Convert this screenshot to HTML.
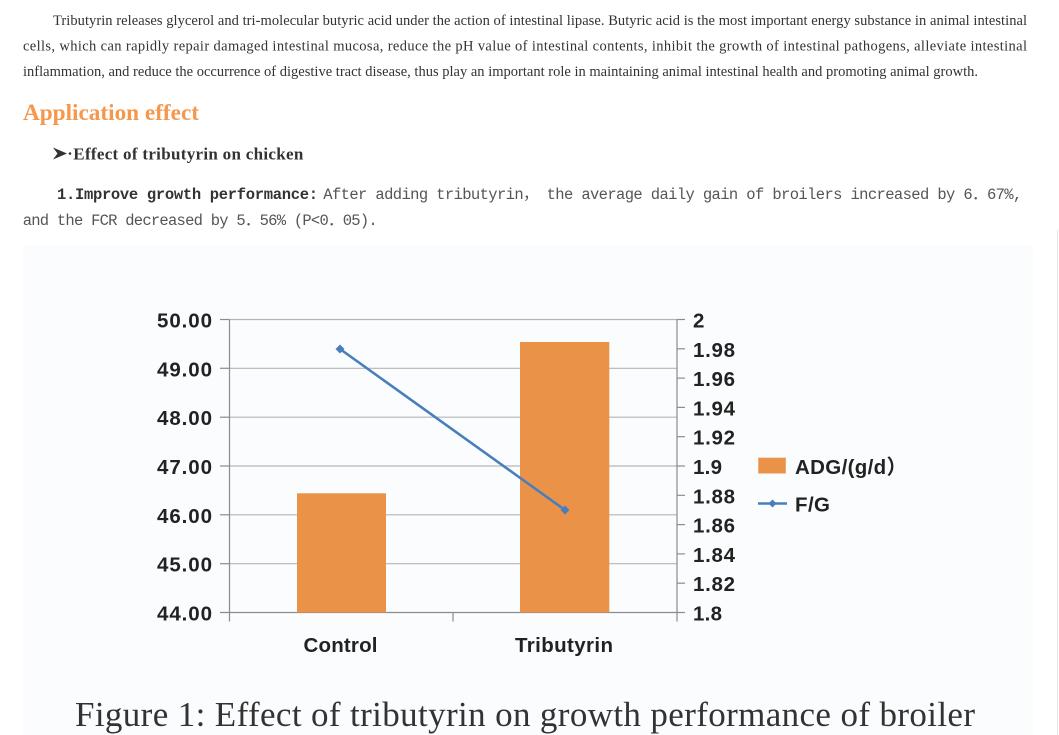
<!DOCTYPE html>
<html>
<head>
<meta charset="utf-8">
<style>
html,body{margin:0;padding:0;background:#fff;}
body{width:1059px;height:735px;overflow:hidden;position:relative;}
svg{position:absolute;left:0;top:0;}
</style>
</head>
<body>
<svg width="1059" height="735" viewBox="0 0 1059 735" xmlns="http://www.w3.org/2000/svg">
  <!-- image background -->
  <rect x="22.7" y="245" width="1010.3" height="490" fill="#fbfcfd"/>
  <line x1="1057.5" y1="230" x2="1057.5" y2="735" stroke="#e6e6e6" stroke-width="1"/>

  <!-- paragraph -->
  <g font-family="'Liberation Serif', serif" font-size="14.5" fill="#333">
    <text x="53" y="25" textLength="974" lengthAdjust="spacing">Tributyrin releases glycerol and tri-molecular butyric acid under the action of intestinal lipase. Butyric acid is the most important energy substance in animal intestinal</text>
    <text x="23" y="50.5" textLength="1004" lengthAdjust="spacing">cells, which can rapidly repair damaged intestinal mucosa, reduce the pH value of intestinal contents, inhibit the growth of intestinal pathogens, alleviate intestinal</text>
    <text x="23" y="76" textLength="955" lengthAdjust="spacing">inflammation, and reduce the occurrence of digestive tract disease, thus play an important role in maintaining animal intestinal health and promoting animal growth.</text>
  </g>

  <!-- heading -->
  <text x="23" y="120" font-family="'Liberation Serif', serif" font-weight="bold" font-size="23" fill="#f5974c" textLength="176" lengthAdjust="spacingAndGlyphs">Application effect</text>

  <!-- sub heading -->
  <polygon points="53,147.5 67,153.5 53,159.5 57.5,153.5" fill="#333"/>
  <circle cx="70" cy="153.5" r="1.3" fill="#333"/>
  <text x="73.3" y="159.5" font-family="'Liberation Serif', serif" font-weight="bold" font-size="17" fill="#333" textLength="230" lengthAdjust="spacing">Effect of tributyrin on chicken</text>

  <!-- monospace lines -->
  <text x="57" y="199" font-family="'Liberation Mono', 'Noto Sans CJK SC', monospace" font-weight="bold" font-size="15.5" fill="#333" textLength="261" lengthAdjust="spacing">1.Improve growth performance:</text>
  <text x="323.3" y="199" font-family="'Liberation Mono', 'Noto Sans CJK SC', monospace" font-size="15.5" fill="#555" textLength="699" lengthAdjust="spacing">After adding tributyrin， the average daily gain of broilers increased by 6．67%,</text>
  <text x="22.7" y="225" font-family="'Liberation Mono', 'Noto Sans CJK SC', monospace" font-size="15.5" fill="#555" textLength="355" lengthAdjust="spacing">and the FCR decreased by 5．56% (P&lt;0．05).</text>

  <!-- chart gridlines -->
  <g stroke="#b5b5b5" stroke-width="1.2">
    <line x1="229.5" y1="319.5" x2="677" y2="319.5"/>
    <line x1="229.5" y1="368.3" x2="677" y2="368.3"/>
    <line x1="229.5" y1="417.2" x2="677" y2="417.2"/>
    <line x1="229.5" y1="466" x2="677" y2="466"/>
    <line x1="229.5" y1="514.8" x2="677" y2="514.8"/>
    <line x1="229.5" y1="563.7" x2="677" y2="563.7"/>
  </g>
  <!-- axes -->
  <g stroke="#8c8c8c" stroke-width="1.2">
    <line x1="229.5" y1="319.5" x2="229.5" y2="621.5"/>
    <line x1="677" y1="319.5" x2="677" y2="621.5"/>
    <line x1="220" y1="612.5" x2="677" y2="612.5"/>
    <line x1="453" y1="612.5" x2="453" y2="621.5"/>
    <line x1="220" y1="319.5" x2="229.5" y2="319.5"/>
    <line x1="220" y1="368.3" x2="229.5" y2="368.3"/>
    <line x1="220" y1="417.2" x2="229.5" y2="417.2"/>
    <line x1="220" y1="466" x2="229.5" y2="466"/>
    <line x1="220" y1="514.8" x2="229.5" y2="514.8"/>
    <line x1="220" y1="563.7" x2="229.5" y2="563.7"/>
    <line x1="677" y1="319.5" x2="685" y2="319.5"/>
    <line x1="677" y1="348.8" x2="685" y2="348.8"/>
    <line x1="677" y1="378.1" x2="685" y2="378.1"/>
    <line x1="677" y1="407.4" x2="685" y2="407.4"/>
    <line x1="677" y1="436.7" x2="685" y2="436.7"/>
    <line x1="677" y1="466" x2="685" y2="466"/>
    <line x1="677" y1="495.3" x2="685" y2="495.3"/>
    <line x1="677" y1="524.6" x2="685" y2="524.6"/>
    <line x1="677" y1="553.9" x2="685" y2="553.9"/>
    <line x1="677" y1="583.2" x2="685" y2="583.2"/>
    <line x1="677" y1="612.5" x2="685" y2="612.5"/>
  </g>

  <!-- bars -->
  <rect x="297" y="493.3" width="89" height="119.2" fill="#ea9248"/>
  <rect x="520" y="342" width="89.3" height="270.5" fill="#ea9248"/>

  <!-- line series -->
  <line x1="340" y1="349" x2="565" y2="510" stroke="#4a7ebb" stroke-width="2.6"/>
  <polygon points="340,344.5 344.5,349 340,353.5 335.5,349" fill="#4a7ebb"/>
  <polygon points="565,505.5 569.5,510 565,514.5 560.5,510" fill="#4a7ebb"/>

  <!-- left axis labels -->
  <g font-family="'Liberation Sans', sans-serif" font-weight="bold" font-size="20.5" fill="#222">
    <text x="157" y="327.5" textLength="55" lengthAdjust="spacing">50.00</text>
    <text x="157" y="376.3" textLength="55" lengthAdjust="spacing">49.00</text>
    <text x="157" y="425.2" textLength="55" lengthAdjust="spacing">48.00</text>
    <text x="157" y="474" textLength="55" lengthAdjust="spacing">47.00</text>
    <text x="157" y="522.8" textLength="55" lengthAdjust="spacing">46.00</text>
    <text x="157" y="571.7" textLength="55" lengthAdjust="spacing">45.00</text>
    <text x="157" y="620.5" textLength="55" lengthAdjust="spacing">44.00</text>
  </g>
  <!-- right axis labels -->
  <g font-family="'Liberation Sans', sans-serif" font-weight="bold" font-size="20.5" fill="#222">
    <text x="693" y="327.5">2</text>
    <text x="693" y="356.8" textLength="42" lengthAdjust="spacing">1.98</text>
    <text x="693" y="386.1" textLength="42" lengthAdjust="spacing">1.96</text>
    <text x="693" y="415.4" textLength="42" lengthAdjust="spacing">1.94</text>
    <text x="693" y="444.7" textLength="42" lengthAdjust="spacing">1.92</text>
    <text x="693" y="474" textLength="29" lengthAdjust="spacing">1.9</text>
    <text x="693" y="503.3" textLength="42" lengthAdjust="spacing">1.88</text>
    <text x="693" y="532.6" textLength="42" lengthAdjust="spacing">1.86</text>
    <text x="693" y="561.9" textLength="42" lengthAdjust="spacing">1.84</text>
    <text x="693" y="591.2" textLength="42" lengthAdjust="spacing">1.82</text>
    <text x="693" y="620.5" textLength="29" lengthAdjust="spacing">1.8</text>
  </g>
  <!-- category labels -->
  <g font-family="'Liberation Sans', sans-serif" font-weight="bold" font-size="20.5" fill="#222">
    <text x="303.5" y="652" textLength="74" lengthAdjust="spacing">Control</text>
    <text x="515" y="652" textLength="98" lengthAdjust="spacing">Tributyrin</text>
  </g>

  <!-- legend -->
  <rect x="758.3" y="457.7" width="27.5" height="15.8" fill="#ea9248"/>
  <text x="795" y="474" font-family="'Liberation Sans', 'Noto Sans CJK SC', sans-serif" font-weight="bold" font-size="20.5" fill="#222" textLength="112" lengthAdjust="spacing">ADG/(g/d）</text>
  <line x1="758" y1="503.5" x2="787" y2="503.5" stroke="#4a7ebb" stroke-width="2.6"/>
  <polygon points="772.5,499.5 776.5,503.5 772.5,507.5 768.5,503.5" fill="#4a7ebb"/>
  <text x="795" y="511.5" font-family="'Liberation Sans', sans-serif" font-weight="bold" font-size="20.5" fill="#222" textLength="35" lengthAdjust="spacing">F/G</text>

  <!-- caption -->
  <text x="75" y="726" font-family="'Liberation Serif', serif" font-size="35" fill="#333" textLength="900" lengthAdjust="spacing">Figure 1: Effect of tributyrin on growth performance of broiler</text>
</svg>
</body>
</html>
